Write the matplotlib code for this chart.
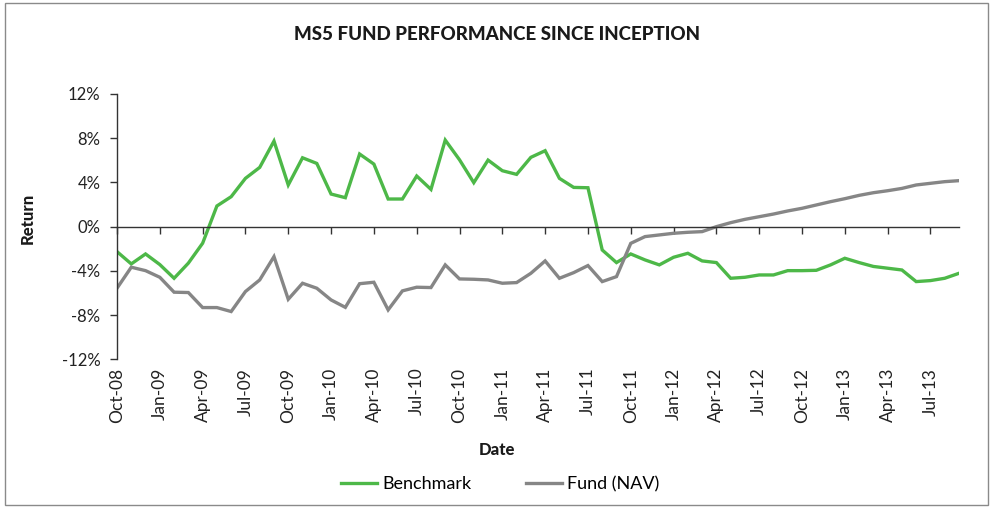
import matplotlib
matplotlib.use("Agg")
import matplotlib.pyplot as plt
from matplotlib.patches import Rectangle
from matplotlib.ticker import FuncFormatter, MultipleLocator

plt.rcParams['font.family'] = ['Lato', 'DejaVu Sans']

# Monthly data Oct-08 .. Sep-13 (60 months)
tick_labels = ["Oct-08", "Jan-09", "Apr-09", "Jul-09", "Oct-09", "Jan-10", "Apr-10",
               "Jul-10", "Oct-10", "Jan-11", "Apr-11", "Jul-11", "Oct-11", "Jan-12",
               "Apr-12", "Jul-12", "Oct-12", "Jan-13", "Apr-13", "Jul-13"]

benchmark = [-2.26, -3.37, -2.47, -3.43, -4.67, -3.30, -1.50, 1.87, 2.71, 4.37,
             5.36, 7.74, 3.77, 6.23, 5.72, 2.95, 2.62, 6.57, 5.66, 2.50,
             2.50, 4.58, 3.37, 7.83, 6.05, 3.98, 6.02, 5.06, 4.73, 6.27,
             6.87, 4.37, 3.55, 3.52, -2.11, -3.25, -2.47, -3.01, -3.46, -2.77,
             -2.41, -3.10, -3.25, -4.67, -4.58, -4.37, -4.37, -3.98, -3.98, -3.95,
             -3.46, -2.86, -3.25, -3.60, -3.76, -3.92, -4.97, -4.88, -4.67, -4.22]

fund = [-5.57, -3.67, -3.98, -4.58, -5.93, -5.96, -7.32, -7.32, -7.68, -5.87,
        -4.82, -2.71, -6.57, -5.12, -5.57, -6.63, -7.30, -5.16, -5.03, -7.53,
        -5.81, -5.48, -5.51, -3.46, -4.73, -4.76, -4.82, -5.12, -5.06, -4.22,
        -3.10, -4.67, -4.16, -3.52, -4.97, -4.52, -1.51, -0.90, -0.75, -0.60,
        -0.51, -0.45, 0.00, 0.36, 0.66, 0.90, 1.14, 1.42, 1.66, 1.96,
        2.26, 2.53, 2.83, 3.07, 3.25, 3.46, 3.77, 3.92, 4.07, 4.16]

months = list(range(len(benchmark)))

W, H = 993, 508
fig = plt.figure(figsize=(W / 100, H / 100), dpi=100)
fig.patch.set_facecolor('white')
fig.patches.append(Rectangle((5 / W, 3 / H), (988 - 5) / W, (505 - 3) / H,
                             transform=fig.transFigure, fill=False,
                             edgecolor='#8a8a8a', linewidth=1.0))

ax = fig.add_axes([117 / W, 1 - 359.3 / H, (959 - 117) / W, (359.3 - 94) / H])

green = '#4DB848'
grey = '#868686'
ax.plot(months, benchmark, color=green, linewidth=2.4, label='Benchmark',
        solid_joinstyle='miter')
ax.plot(months, fund, color=grey, linewidth=2.4, label='Fund (NAV)',
        solid_joinstyle='miter')

ax.set_xlim(0, len(months) - 1)
ax.set_ylim(-12, 12)
ax.yaxis.set_major_locator(MultipleLocator(4))
ax.yaxis.set_major_formatter(FuncFormatter(lambda v, p: f"{int(round(v))}%"))

for s in ['top', 'right']:
    ax.spines[s].set_visible(False)
ax.spines['left'].set_color('#333333')
ax.spines['left'].set_linewidth(1.0)
ax.spines['bottom'].set_position(('data', 0))
ax.spines['bottom'].set_color('#333333')
ax.spines['bottom'].set_linewidth(1.0)

xt = list(range(0, len(months), 3))
ax.set_xticks(xt)
ax.set_xticklabels([])
ax.tick_params(axis='x', direction='out', length=5, width=1.0, color='#333333')
ax.tick_params(axis='y', direction='out', length=5, width=1.0, color='#333333',
               labelsize=12, pad=7, labelcolor='#222222')

sec = ax.secondary_xaxis('bottom')
sec.set_xticks(xt)
sec.set_xticklabels(tick_labels, rotation=90, fontsize=12.5, color='#222222')
sec.tick_params(axis='x', length=0, pad=6)
sec.spines['bottom'].set_visible(False)

fig.text(497 / W, 1 - 35 / H, "MS5 FUND PERFORMANCE SINCE INCEPTION",
         ha='center', va='center', fontsize=13.5, fontweight='black', color='#1a1a1a')
fig.text(28 / W, 1 - 218 / H, "Return", rotation=90, ha='center', va='center',
         fontsize=12, fontweight='black', color='#1a1a1a')
fig.text(497 / W, 1 - 450 / H, "Date", ha='center', va='center',
         fontsize=12, fontweight='black', color='#1a1a1a')

fig.legend(loc='center', bbox_to_anchor=(500 / W, 1 - 484 / H), ncol=2,
           frameon=False, fontsize=13, handlelength=2.0, handletextpad=0.3,
           columnspacing=3.0)

fig.savefig('out.png', dpi=100)
